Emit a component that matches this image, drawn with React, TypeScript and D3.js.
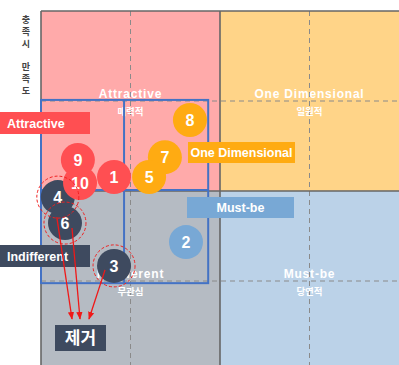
import React from "react";
import * as d3 from "d3";

// Kano plot: x = dissatisfaction coefficient, y = satisfaction coefficient
const ids = ["1", "2", "3", "4", "5", "6", "7", "8", "9", "10"];
const xValues = [0.204, 0.405, 0.204, 0.047, 0.302, 0.067, 0.346, 0.416, 0.103, 0.109];
const yValues = [0.539, 0.358, 0.292, 0.483, 0.539, 0.411, 0.594, 0.697, 0.586, 0.522];
const groups = ["A", "M", "I", "I", "O", "I", "O", "O", "A", "A"];
const drawOrder = ["4", "6", "3", "2", "9", "10", "1", "7", "5", "8"];
const removed = ["4", "6", "3"];

const quadrants = [
  { key: "A", x0: 0, x1: 0.5, y0: 0.5, y1: 1, en: "Attractive", ko: "매력적" },
  { key: "O", x0: 0.5, x1: 1, y0: 0.5, y1: 1, en: "One Dimensional", ko: "일원적" },
  { key: "I", x0: 0, x1: 0.5, y0: 0, y1: 0.5, en: "Indifferent", ko: "무관심" },
  { key: "M", x0: 0.5, x1: 1, y0: 0, y1: 0.5, en: "Must-be", ko: "당연적" },
];

// zoomed area (blue box) and mean lines
const zoomX = [0, 0.467];
const zoomY = [0.244, 0.753];
const meanX = 0.232;
const meanY = 0.503;

const fillColor = { A: "#ffaaaa", O: "#ffd488", I: "#b5bbc3", M: "#bbd2e8" };
const dotColor = { A: "#ff4f52", O: "#ffab12", I: "#3e4a5f", M: "#78a8d5" };

const legendBoxes = [
  { key: "A", text: "Attractive", x: 0, y: 112, w: 90, h: 22 },
  { key: "O", text: "One Dimensional", x: 188, y: 142, w: 107, h: 21 },
  { key: "M", text: "Must-be", x: 187, y: 197, w: 107, h: 21 },
  { key: "I", text: "Indifferent", x: 0, y: 245, w: 90, h: 22 },
];

const yLabel = ["충", "족", "시", "", "만", "족", "도"];

const W = 399;
const H = 365;

export default function App() {
  const x = d3.scaleLinear().domain([0, 1]).range([41, 399]);
  const y = d3.scaleLinear().domain([0, 1]).range([371, 11]);
  const r = 17;

  const pts = ids.map((id, i) => ({ id, x: xValues[i], y: yValues[i], g: groups[i] }));
  const byId = new Map(pts.map((p) => [p.id, p]));

  const removeBox = { x: 55, y: 325, w: 51, h: 26 };
  const arrowStart: Record<string, [number, number]> = { "4": [-1, 20], "6": [7, 5], "3": [-9, 4] };
  const arrowEndX: Record<string, number> = { "4": 72, "6": 80, "3": 89 };

  const font = "'Liberation Sans', Arial, 'Noto Sans CJK KR', sans-serif";
  const ko = "'Noto Sans CJK KR', sans-serif";

  return (
    <svg
      width={W}
      height={H}
      style={{ position: "absolute", left: 0, top: 0, background: "#fff" }}
      fontFamily={font}
    >
      <defs>
        <clipPath id="plot">
          <rect x={0} y={0} width={W} height={H} />
        </clipPath>
        <marker id="arr" viewBox="0 0 10 10" refX={9} refY={5} markerWidth={6} markerHeight={6} orient="auto">
          <path d="M0,1 L10,5 L0,9 z" fill="#f01818" />
        </marker>
      </defs>

      <g clipPath="url(#plot)">
        {quadrants.map((q) => (
          <rect
            key={q.key}
            x={x(q.x0)}
            y={y(q.y1)}
            width={x(q.x1) - x(q.x0)}
            height={y(q.y0) - y(q.y1)}
            fill={fillColor[q.key]}
          />
        ))}
        {/* dashed quarter lines */}
        {[0.25, 0.75].map((v) => (
          <g key={v} stroke="#8a8a8a" strokeWidth={1} strokeDasharray="5,4">
            <line x1={x(v)} x2={x(v)} y1={y(1)} y2={y(0)} />
            <line x1={x(0)} x2={x(1)} y1={y(v)} y2={y(v)} />
          </g>
        ))}
        {/* axes / mid lines */}
        <g stroke="#666" strokeWidth={1.6}>
          <line x1={x(0)} x2={x(0)} y1={y(1)} y2={y(0)} />
          <line x1={x(0)} x2={x(1)} y1={y(1)} y2={y(1)} />
          <line x1={x(0.5)} x2={x(0.5)} y1={y(1)} y2={y(0)} />
          <line x1={x(0)} x2={x(1)} y1={y(0.5)} y2={y(0.5)} />
        </g>
        {/* quadrant labels */}
        {quadrants.map((q) => {
          const cx = x((q.x0 + q.x1) / 2);
          const cy = y(q.y0 + 0.25);
          return (
            <g key={q.key} fill="#fff" textAnchor="middle">
              <text x={cx} y={cy - 3} fontSize={12} fontWeight="bold" letterSpacing={0.8}>
                {q.en}
              </text>
              <text x={cx} y={cy + 14} fontSize={9.5} fontWeight="bold" fontFamily={ko}>
                {q.ko}
              </text>
            </g>
          );
        })}
        {/* zoom box */}
        <g stroke="#4472c4" strokeWidth={2} fill="none">
          <rect x={x(zoomX[0])} y={y(zoomY[1])} width={x(zoomX[1]) - x(zoomX[0])} height={y(zoomY[0]) - y(zoomY[1])} />
          <line x1={x(meanX)} x2={x(meanX)} y1={y(zoomY[1])} y2={y(zoomY[0])} />
          <line x1={x(zoomX[0])} x2={x(zoomX[1])} y1={y(meanY)} y2={y(meanY)} />
        </g>
        {/* points */}
        {drawOrder.map((id) => {
          const p = byId.get(id)!;
          return (
            <g key={id}>
              <circle cx={x(p.x)} cy={y(p.y)} r={r} fill={dotColor[p.g]} />
              <text
                x={x(p.x)}
                y={y(p.y) + 6}
                textAnchor="middle"
                fill="#fff"
                fontSize={16}
                fontWeight="bold"
              >
                {id}
              </text>
            </g>
          );
        })}
        {/* removed points */}
        {removed.map((id) => {
          const p = byId.get(id)!;
          return (
            <circle
              key={id}
              cx={x(p.x)}
              cy={y(p.y)}
              r={21}
              fill="none"
              stroke="#f02020"
              strokeWidth={1}
              strokeDasharray="3,2"
            />
          );
        })}
        {/* legend boxes */}
        {legendBoxes.map((b) => (
          <g key={b.key}>
            <rect x={b.x} y={b.y} width={b.w} height={b.h} fill={dotColor[b.key]} />
            <text
              x={b.key === "A" || b.key === "I" ? b.x + 7 : b.x + b.w / 2}
              y={b.y + b.h / 2 + 4.5}
              textAnchor={b.key === "A" || b.key === "I" ? "start" : "middle"}
              fill="#fff"
              fontSize={12.5}
              fontWeight="bold"
            >
              {b.text}
            </text>
          </g>
        ))}
        {/* arrows */}
        {removed.map((id) => {
          const p = byId.get(id)!;
          const [dx, dy] = arrowStart[id];
          return (
            <line
              key={id}
              x1={x(p.x) + dx}
              y1={y(p.y) + dy}
              x2={arrowEndX[id]}
              y2={removeBox.y - 6}
              stroke="#f01818"
              strokeWidth={1.3}
              markerEnd="url(#arr)"
            />
          );
        })}
        <rect x={removeBox.x} y={removeBox.y} width={removeBox.w} height={removeBox.h} fill="#3e4a5f" />
        <text
          x={removeBox.x + removeBox.w / 2}
          y={removeBox.y + 19}
          textAnchor="middle"
          fill="#fff"
          fontSize={17}
          fontWeight="bold"
          fontFamily={ko}
        >
          제거
        </text>
        {/* y-axis title */}
        {yLabel.map((c, i) => (
          <text
            key={i}
            x={26}
            y={23 + i * 11.8}
            textAnchor="middle"
            fill="#444"
            fontSize={9}
            fontWeight="bold"
            fontFamily={ko}
          >
            {c}
          </text>
        ))}
      </g>
    </svg>
  );
}
